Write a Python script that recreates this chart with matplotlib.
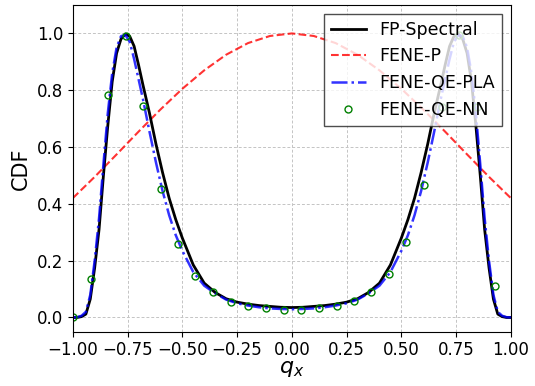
"""
CDF of q_x: FP-Spectral vs FENE-P vs FENE-QE closures.
"""

import numpy as np
import matplotlib
matplotlib.use("Agg")
import matplotlib.pyplot as plt

# ---------------------------------------------------------------------------
# Data
# ---------------------------------------------------------------------------
Q = [-1.00, -0.98, -0.96, -0.94, -0.92, -0.90, -0.88, -0.86, -0.84, -0.82,
     -0.80, -0.78, -0.76, -0.74, -0.72, -0.70, -0.68, -0.65, -0.62, -0.59,
     -0.56, -0.53, -0.50, -0.45, -0.40, -0.35, -0.30, -0.25, -0.20, -0.15,
     -0.10, -0.05, 0.00,
     0.05, 0.10, 0.15, 0.20, 0.25, 0.30, 0.35, 0.40, 0.45, 0.50,
     0.53, 0.56, 0.59, 0.62, 0.65, 0.68, 0.70, 0.72, 0.74, 0.76,
     0.78, 0.80, 0.82, 0.84, 0.86, 0.88, 0.90, 0.92, 0.94, 0.96,
     0.98, 1.00]

FP_SPECTRAL = [0.000, 0.000, 0.003, 0.012, 0.065, 0.175, 0.310, 0.500, 0.676, 0.830,
               0.930, 0.980, 0.998, 0.990, 0.955, 0.890, 0.820, 0.720, 0.610, 0.510,
               0.420, 0.345, 0.280, 0.185, 0.121, 0.088, 0.066, 0.054, 0.047, 0.042,
               0.039, 0.036, 0.035,
               0.036, 0.039, 0.042, 0.047, 0.054, 0.066, 0.088, 0.121, 0.185, 0.280,
               0.345, 0.420, 0.510, 0.610, 0.720, 0.820, 0.890, 0.955, 0.990, 0.998,
               0.980, 0.930, 0.830, 0.676, 0.500, 0.310, 0.175, 0.065, 0.012, 0.003,
               0.000, 0.000]

FENE_QE_PLA = [0.000, 0.001, 0.006, 0.020, 0.080, 0.200, 0.350, 0.540, 0.720, 0.860,
               0.950, 0.990, 0.995, 0.970, 0.910, 0.840, 0.770, 0.655, 0.545, 0.445,
               0.360, 0.290, 0.235, 0.160, 0.112, 0.085, 0.063, 0.050, 0.042, 0.036,
               0.032, 0.030, 0.029,
               0.030, 0.032, 0.036, 0.042, 0.050, 0.063, 0.085, 0.112, 0.160, 0.235,
               0.290, 0.360, 0.445, 0.545, 0.655, 0.770, 0.840, 0.910, 0.970, 0.995,
               0.990, 0.950, 0.860, 0.720, 0.540, 0.350, 0.200, 0.080, 0.020, 0.006,
               0.001, 0.000]

Q_FENEP = [-1.0, -0.9, -0.8, -0.7, -0.6, -0.5, -0.4, -0.3, -0.2, -0.1, 0.0,
           0.1, 0.2, 0.3, 0.4, 0.5, 0.6, 0.7, 0.8, 0.9, 1.0]
FENE_P = [0.420, 0.495, 0.574, 0.654, 0.732, 0.805, 0.870, 0.925, 0.966, 0.991, 1.000,
          0.991, 0.966, 0.925, 0.870, 0.805, 0.732, 0.654, 0.574, 0.495, 0.420]

Q_NN = [-0.997, -0.919, -0.840, -0.758, -0.678, -0.597, -0.519, -0.440, -0.358,
        -0.277, -0.198, -0.117, -0.035, 0.042, 0.123, 0.204, 0.284, 0.363,
        0.444, 0.523, 0.604, 0.684, 0.764, 0.846, 0.927]
FENE_QE_NN = [0.000, 0.134, 0.782, 0.990, 0.743, 0.453, 0.258, 0.147, 0.088,
              0.056, 0.040, 0.033, 0.028, 0.028, 0.033, 0.040, 0.058, 0.091,
              0.152, 0.266, 0.465, 0.740, 0.994, 0.740, 0.112]

# ---------------------------------------------------------------------------
# Plot
# ---------------------------------------------------------------------------
fig = plt.figure(figsize=(5.35, 3.86), dpi=100)
ax = fig.add_axes([0.136, 0.1407, 0.819, 0.8463])

ax.plot(Q, FP_SPECTRAL, color="k", lw=2.0, label="FP-Spectral", zorder=2.2)
ax.plot(Q_FENEP, FENE_P, color="r", lw=1.5, ls="--", alpha=0.8, label="FENE-P", zorder=2.1)
ax.plot(Q, FENE_QE_PLA, color="b", lw=1.8, ls="-.", alpha=0.8, label="FENE-QE-PLA", zorder=2.3)
ax.plot(Q_NN, FENE_QE_NN, ls="none", marker="o", ms=5, mfc="none", mec="g",
        mew=1.0, label="FENE-QE-NN", zorder=2.4)

ax.set_xlim(-1.0, 1.0)
ax.set_ylim(-0.05, 1.1)
ax.xaxis.set_major_locator(plt.MultipleLocator(0.25))
ax.yaxis.set_major_locator(plt.MultipleLocator(0.2))
ax.tick_params(labelsize=12)
ax.set_xlabel(r"$q_x$", fontsize=16, labelpad=0)
ax.set_ylabel("CDF", fontsize=15)
ax.grid(True, ls=(0, (3, 2)), color="#c4c4c4", lw=0.7)
ax.set_axisbelow(True)

leg = ax.legend(fontsize=12.5, loc="upper right", fancybox=False,
                edgecolor="#222222", numpoints=1, framealpha=0.8)
leg.get_frame().set_linewidth(1.0)
leg.set_zorder(10)

fig.savefig("out.png", dpi=100, facecolor="white")
